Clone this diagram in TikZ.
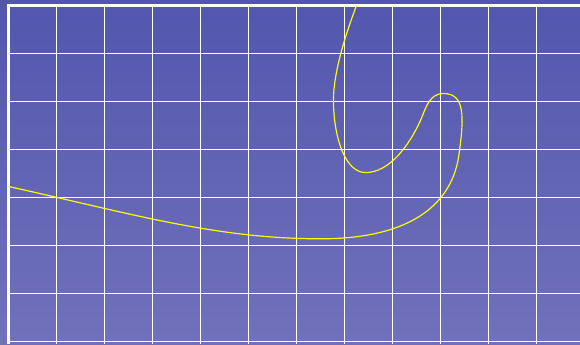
\documentclass[tikz,border=0pt]{standalone}
\usetikzlibrary{calc}
\definecolor{skytop}{RGB}{82,86,174}
\definecolor{skybot}{RGB}{113,113,187}
\definecolor{trace}{RGB}{255,255,0}
\tikzset{
  gridline/.style={draw=white,line width=0.9pt},
  frameline/.style={draw=white,line width=1.8pt},
  path line/.style={draw=trace,line width=0.7pt},
}
\begin{document}
\begin{tikzpicture}
  % canvas, one grid square = 1cm
  \shade[top color=skytop,bottom color=skybot] (-0.177,0.115) rectangle (11.906,-7.052);
  \useasboundingbox (-0.177,0.115) rectangle (11.906,-7.052);
  \foreach \x in {1,...,11} \draw[gridline] (\x,0) -- (\x,-7.052);
  \foreach \y in {1,...,7} \draw[gridline] (0,-\y) -- (11.906,-\y);
  \draw[frameline] (0,-7.052) -- (0,0) -- (11.906,0);
  % the trace
  \draw[path line] (0,-3.77)
    .. controls (2.5,-4.32) and (4.3,-4.86) .. (6.5,-4.86)
    .. controls (8.3,-4.86) and (9.2,-4.2) .. (9.375,-3.17)
    .. controls (9.5,-2.3) and (9.51,-1.833) .. (9.06,-1.833)
    .. controls (8.76,-1.833) and (8.69,-2.15) .. (8.58,-2.40)
    .. controls (8.355,-2.9) and (7.94,-3.48) .. (7.44,-3.48)
    .. controls (6.99,-3.48) and (6.77,-2.68) .. (6.77,-1.98)
    .. controls (6.77,-1.3) and (7.1,-0.4) .. (7.25,0);
\end{tikzpicture}
\end{document}
